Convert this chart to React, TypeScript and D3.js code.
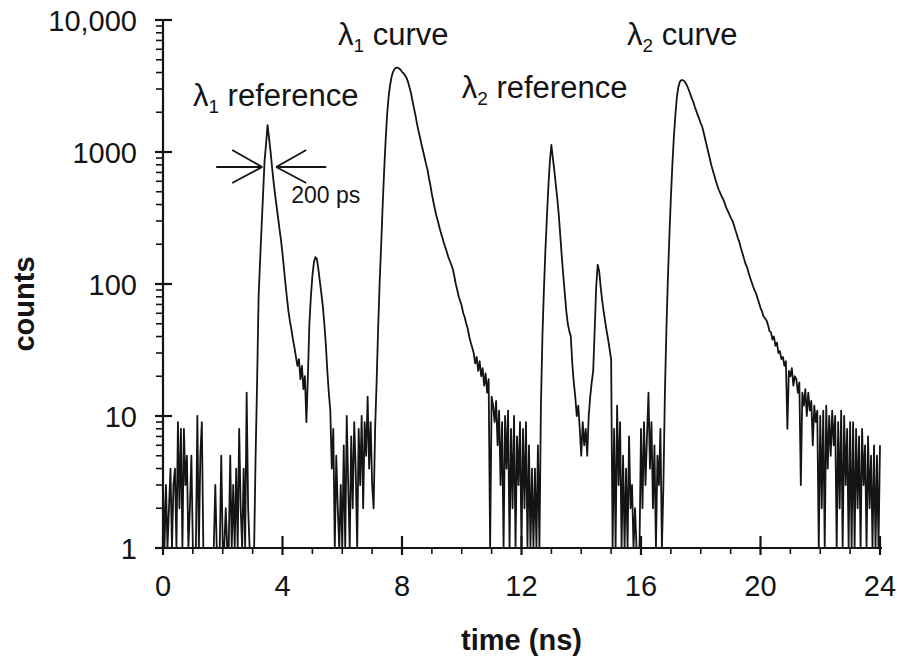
import React from 'react';
import * as d3 from 'd3';

const WIDTH = 897;
const HEIGHT = 658;

// Width of one histogram channel, in ns.
const BIN_NS = 0.05;

const timeMajorTicks = [0, 4, 8, 12, 16, 20, 24];
const countMajorTicks = [1, 10, 100, 1000, 10000];
const countTickLabels = ['1', '10', '100', '1000', '10,000'];

// Photon counts per channel, window by window. Each window begins at its start time (ns).
const backgroundStart = 0;
const backgroundCounts = [3, 0, 3, 0, 2, 4, 0, 3, 4, 0, 9, 2, 8, 0, 8, 3, 5, 0, 2, 5, 0, 0, 1, 10, 0, 5, 9, 0, 0, 0, 0, 0, 0, 0, 0, 3, 0, 0, 0, 5, 0, 0, 2, 0, 0, 5, 0, 3, 0, 4, 0, 8, 2, 0, 4, 0, 15, 2, 0, 0, 1];

const ref1Start = 3.05;
const ref1Counts = [1, 5, 18, 80, 150, 270, 480, 860, 1150, 1600, 1270, 1010, 770, 600, 480, 390, 320, 260, 215, 170, 130, 100, 78, 62, 52, 45, 38, 33, 28, 24, 27, 19, 24, 16, 20, 9, 20, 50, 80, 115, 145, 160, 155, 130, 105, 85, 68, 50, 35, 22, 15, 11];

const gap1Start = 5.65;
const gap1Counts = [4, 8, 0, 5, 2, 0, 3, 0, 6, 1, 10, 3, 0, 7, 2, 9, 4, 0, 8, 3, 10, 2, 9, 5, 14, 4, 9, 3];

const curve1Start = 7.05;
const curve1Counts = [2, 8, 18, 45, 100, 190, 380, 700, 1200, 1900, 2600, 3200, 3700, 4050, 4250, 4350, 4350, 4300, 4200, 4050, 3950, 3800, 3650, 3400, 3100, 2800, 2450, 2150, 1900, 1650, 1450, 1300, 1150, 1030, 920, 820, 740, 640, 560, 480, 420, 370, 330, 300, 270, 245, 225, 205, 190, 175, 160, 150, 140, 130, 115, 100, 90, 80, 74, 68, 60, 56, 50, 46, 40, 36, 33, 30, 25, 28, 22, 26, 20, 23, 17, 21, 15, 19, 0, 14];

const gap2Start = 11.05;
const gap2Counts = [12, 9, 13, 6, 11, 3, 9, 0, 10, 4, 11, 0, 8, 2, 10, 0, 7, 3, 9, 0, 8, 2, 9, 0, 6, 0, 4, 1, 4, 0, 6];

const ref2Start = 12.6;
const ref2Counts = [1, 12, 40, 90, 180, 320, 550, 850, 1130, 900, 720, 560, 440, 330, 230, 160, 115, 85, 62, 50, 44, 40, 25, 18, 14, 10, 12, 8, 5, 9, 6, 8, 5, 10, 14, 18, 22, 45, 95, 140, 125, 95, 75, 62, 52, 44, 38, 32, 27, 0];

const gap3Start = 15.1;
const gap3Counts = [8, 0, 12, 3, 9, 0, 5, 1, 4, 0, 7, 2, 3, 0, 2, 0, 1, 0, 8, 2, 9, 3, 7, 15, 4, 9, 2, 6, 0, 5, 3, 8, 0];

const curve2Start = 16.75;
const curve2Counts = [3, 15, 45, 110, 230, 450, 800, 1300, 1900, 2600, 3100, 3400, 3500, 3500, 3450, 3300, 3150, 2950, 2750, 2550, 2400, 2200, 2050, 1900, 1780, 1650, 1550, 1400, 1250, 1120, 1000, 900, 800, 730, 670, 610, 560, 520, 490, 460, 440, 410, 380, 360, 340, 320, 305, 285, 260, 240, 220, 205, 185, 170, 155, 142, 134, 122, 112, 104, 96, 90, 85, 78, 72, 66, 62, 57, 55, 53, 49, 44, 43, 38, 40, 34, 36, 30, 31, 27, 28, 24, 26, 8, 22, 20, 23, 17, 20, 19, 15, 18, 3, 15, 12, 16, 10, 15, 11, 13, 6, 12, 9, 11, 0, 10, 2, 11, 0, 12, 4, 10, 5, 11, 6, 10, 0, 9, 2, 11, 0, 10, 3, 8, 0, 9, 1, 9, 0, 8, 2, 7, 0, 8, 3, 6, 0, 7, 2, 5, 0, 6, 0, 5, 0, 6];

const windows: { start: number; counts: number[] }[] = [
  { start: backgroundStart, counts: backgroundCounts },
  { start: ref1Start, counts: ref1Counts },
  { start: gap1Start, counts: gap1Counts },
  { start: curve1Start, counts: curve1Counts },
  { start: gap2Start, counts: gap2Counts },
  { start: ref2Start, counts: ref2Counts },
  { start: gap3Start, counts: gap3Counts },
  { start: curve2Start, counts: curve2Counts },
];

// Peak labels, placed in data coordinates (time in ns, counts).
const peakLabels: { t: number; c: number; name: string; sub: string; rest: string }[] = [
  { t: 1.0, c: 2230, name: 'λ', sub: '1', rest: ' reference' },
  { t: 5.86, c: 6460, name: 'λ', sub: '1', rest: ' curve' },
  { t: 10.0, c: 2560, name: 'λ', sub: '2', rest: ' reference' },
  { t: 15.53, c: 6460, name: 'λ', sub: '2', rest: ' curve' },
];

// Full width at half maximum of the first reference pulse.
const fwhmLeftNs = 3.32;
const fwhmRightNs = 3.79;
const fwhmCount = 770;
const fwhmLabel = '200 ps';

const FONT = '"Liberation Sans", Arial, Helvetica, sans-serif';
const INK = '#141414';

export default function App() {
  const left = 163;
  const right = 880;
  const top = 20;
  const bottom = 548;

  const x = d3.scaleLinear().domain([0, 24]).range([left, right]);
  const y = d3.scaleLog().domain([1, 10000]).range([bottom, top]).clamp(true);

  const points: [number, number][] = [];
  windows.forEach((w) => {
    w.counts.forEach((c, i) => points.push([w.start + i * BIN_NS, c]));
  });

  const line = d3
    .line<[number, number]>()
    .x((d) => x(d[0]))
    .y((d) => y(Math.max(d[1], 1)));

  const minorCountTicks: number[] = [];
  for (let p = 0; p < 4; p++) {
    for (let m = 2; m <= 9; m++) minorCountTicks.push(m * Math.pow(10, p));
  }
  const minorTimeTicks = d3.range(0, 25, 1).filter((t) => t % 4 !== 0);

  const yF = y(fwhmCount);
  const xL = x(fwhmLeftNs);
  const xR = x(fwhmRightNs);

  return (
    <svg
      width={WIDTH}
      height={HEIGHT}
      viewBox={`0 0 ${WIDTH} ${HEIGHT}`}
      style={{ position: 'fixed', left: 0, top: 0, background: '#fff' }}
      fontFamily={FONT}
    >
      <rect x={0} y={0} width={WIDTH} height={HEIGHT} fill="#fff" />

      {/* decay trace */}
      <path d={line(points) ?? ''} fill="none" stroke={INK} strokeWidth={1.8} strokeLinejoin="round" />

      {/* y axis */}
      <line x1={left} x2={left} y1={top} y2={bottom} stroke={INK} strokeWidth={2.2} />
      {countMajorTicks.map((v) => (
        <line key={`ym${v}`} x1={left - 8} x2={left + 9} y1={y(v)} y2={y(v)} stroke={INK} strokeWidth={2.2} />
      ))}
      {minorCountTicks.map((v) => (
        <line key={`yn${v}`} x1={left - 7} x2={left} y1={y(v)} y2={y(v)} stroke={INK} strokeWidth={1.6} />
      ))}
      {countMajorTicks.map((v, i) => (
        <text key={`yl${v}`} x={left - 26} y={y(v) + 11} textAnchor="end" fontSize={29} fill={INK}>
          {countTickLabels[i]}
        </text>
      ))}

      {/* x axis */}
      <line x1={left} x2={right + 2} y1={bottom} y2={bottom} stroke={INK} strokeWidth={2.2} />
      {timeMajorTicks.map((t) => (
        <line key={`xm${t}`} x1={x(t)} x2={x(t)} y1={bottom - 12} y2={bottom + 7} stroke={INK} strokeWidth={2.2} />
      ))}
      {minorTimeTicks.map((t) => (
        <line key={`xn${t}`} x1={x(t)} x2={x(t)} y1={bottom} y2={bottom + 6} stroke={INK} strokeWidth={1.6} />
      ))}
      {timeMajorTicks.map((t) => (
        <text key={`xl${t}`} x={x(t)} y={bottom + 48} textAnchor="middle" fontSize={29} fill={INK}>
          {t}
        </text>
      ))}

      {/* axis titles */}
      <text x={(left + right) / 2} y={650} textAnchor="middle" fontSize={29} fontWeight="bold" fill={INK}>
        time (ns)
      </text>
      <text
        transform={`translate(34, ${(top + bottom) / 2 + 20}) rotate(-90)`}
        textAnchor="middle"
        fontSize={29}
        fontWeight="bold"
        fill={INK}
      >
        counts
      </text>

      {/* peak labels */}
      {peakLabels.map((p) => (
        <text key={`${p.sub}${p.rest}`} x={x(p.t)} y={y(p.c)} fontSize={31} fill={INK}>
          <tspan>{p.name}</tspan>
          <tspan fontSize={19} dy={7}>
            {p.sub}
          </tspan>
          <tspan dy={-7}>{p.rest}</tspan>
        </text>
      ))}

      {/* FWHM marker */}
      <g stroke={INK} strokeWidth={1.9} fill="none">
        <line x1={xL - 46} x2={xL} y1={yF} y2={yF} />
        <line x1={xL - 30} x2={xL} y1={yF - 17} y2={yF} />
        <line x1={xL - 30} x2={xL} y1={yF + 16} y2={yF} />
        <line x1={xR} x2={xR + 50} y1={yF} y2={yF} />
        <line x1={xR + 30} x2={xR} y1={yF - 17} y2={yF} />
        <line x1={xR + 30} x2={xR} y1={yF + 16} y2={yF} />
      </g>
      <text x={x(fwhmRightNs) + 15} y={yF + 36} fontSize={23} fill={INK}>
        {fwhmLabel}
      </text>
    </svg>
  );
}
